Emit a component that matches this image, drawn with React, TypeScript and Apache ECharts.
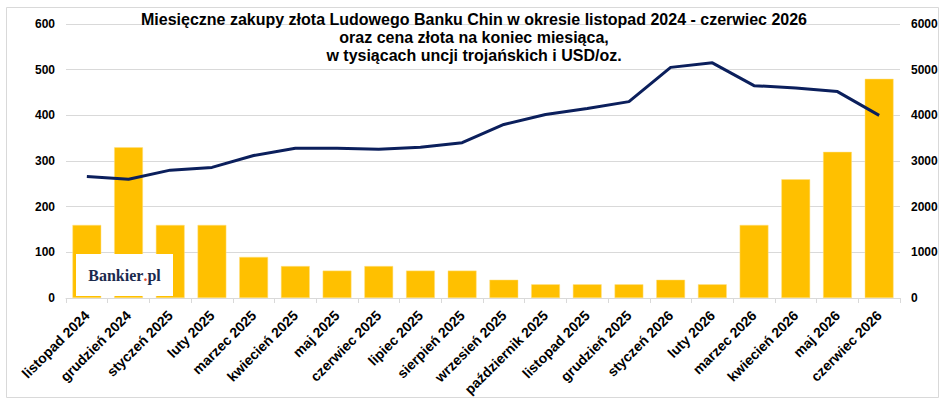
import React, { useEffect, useRef } from "react";
import * as echarts from "echarts";

const categories = [
  "listopad 2024", "grudzień 2024", "styczeń 2025", "luty 2025", "marzec 2025",
  "kwiecień 2025", "maj 2025", "czerwiec 2025", "lipiec 2025", "sierpień 2025",
  "wrzesień 2025", "październik 2025", "listopad 2025", "grudzień 2025", "styczeń 2026",
  "luty 2026", "marzec 2026", "kwiecień 2026", "maj 2026", "czerwiec 2026",
];

// purchases, thousand troy ounces (left axis)
const purchases = [160, 330, 160, 160, 90, 70, 60, 70, 60, 60, 40, 30, 30, 30, 40, 30, 160, 260, 320, 480];

// gold price at month end, USD/oz (right axis)
const goldPrice = [2660, 2600, 2800, 2860, 3120, 3280, 3280, 3260, 3300, 3400, 3800, 4020, 4150, 4300, 5050, 5150, 4650, 4600, 4520, 4000];

const titleText =
  "Miesięczne zakupy złota Ludowego Banku Chin w okresie listopad 2024 - czerwiec 2026\noraz cena złota na koniec miesiąca,\nw tysiącach uncji trojańskich i USD/oz.";

export default function App() {
  const ref = useRef<HTMLDivElement>(null);

  useEffect(() => {
    if (!ref.current) return;
    const chart = echarts.init(ref.current, null, { renderer: "svg" });
    const font = "Arial, 'Liberation Sans', sans-serif";
    chart.setOption({
      animation: false,
      backgroundColor: "#ffffff",
      grid: { left: 66, right: 48, top: 24, bottom: 107, containLabel: false },
      xAxis: {
        type: "category",
        data: categories,
        boundaryGap: true,
        axisLine: { show: true, lineStyle: { color: "#d9d9d9", width: 1 } },
        axisTick: { show: true, alignWithLabel: false, length: 5, lineStyle: { color: "#d9d9d9" } },
        axisLabel: {
          interval: 0,
          rotate: 45,
          margin: 15,
          fontFamily: font,
          fontSize: 14,
          fontWeight: "bold",
          color: "#000000",
        },
      },
      yAxis: [
        {
          type: "value",
          min: 0,
          max: 600,
          interval: 100,
          axisLine: { show: false },
          axisTick: { show: false },
          splitLine: { show: true, lineStyle: { color: "#d9d9d9", width: 1 } },
          axisLabel: {
            margin: 11,
            fontFamily: font,
            fontSize: 12,
            fontWeight: "bold",
            color: "#000000",
            formatter: (v: number) => String(v),
          },
        },
        {
          type: "value",
          min: 0,
          max: 6000,
          interval: 1000,
          axisLine: { show: false },
          axisTick: { show: false },
          splitLine: { show: false },
          axisLabel: {
            margin: 11,
            fontFamily: font,
            fontSize: 12,
            fontWeight: "bold",
            color: "#000000",
            formatter: (v: number) => String(v),
          },
        },
      ],
      series: [
        {
          name: "zakupy",
          type: "bar",
          data: purchases,
          yAxisIndex: 0,
          barWidth: "69%",
          itemStyle: { color: "#FFC000", borderColor: "#FFE082", borderWidth: 0.5 },
          z: 2,
        },
        {
          name: "cena",
          type: "line",
          data: goldPrice,
          yAxisIndex: 1,
          symbol: "none",
          lineStyle: { color: "#0B1F5C", width: 3 },
          z: 3,
        },
      ],
      graphic: [
        {
          type: "rect",
          shape: { x: 6.5, y: 7.5, width: 932, height: 390 },
          style: { fill: "none", stroke: "#d9d9d9", lineWidth: 1 },
          silent: true,
          z: 0,
        },
        {
          type: "text",
          x: 474,
          y: 10,
          z: 100,
          style: {
            text: titleText,
            align: "center",
            verticalAlign: "top",
            fontFamily: font,
            fontSize: 16,
            fontWeight: "bold",
            fill: "#000000",
            lineHeight: 18,
          },
        },
        {
          type: "group",
          z: 100,
          children: [
            {
              type: "rect",
              shape: { x: 76, y: 254, width: 97, height: 42 },
              style: { fill: "#ffffff" },
              z: 100,
            },
            {
              type: "text",
              x: 124.5,
              y: 275,
              z: 101,
              style: {
                text: "{a|Bankier}{b|.}{a|pl}",
                align: "center",
                verticalAlign: "middle",
                rich: {
                  a: { fontFamily: "'Liberation Serif', 'DejaVu Serif', serif", fontSize: 16, fontWeight: "bold", fill: "#1b2a4e" },
                  b: { fontFamily: "'Liberation Serif', 'DejaVu Serif', serif", fontSize: 16, fontWeight: "bold", fill: "#e8452c" },
                },
              },
            },
          ],
        },
      ],
    });
    return () => chart.dispose();
  }, []);

  return (
    <div style={{ position: "fixed", left: 0, top: 0, width: 948, height: 405, background: "#fff" }}>
      <div ref={ref} style={{ width: 948, height: 405 }} />
    </div>
  );
}
